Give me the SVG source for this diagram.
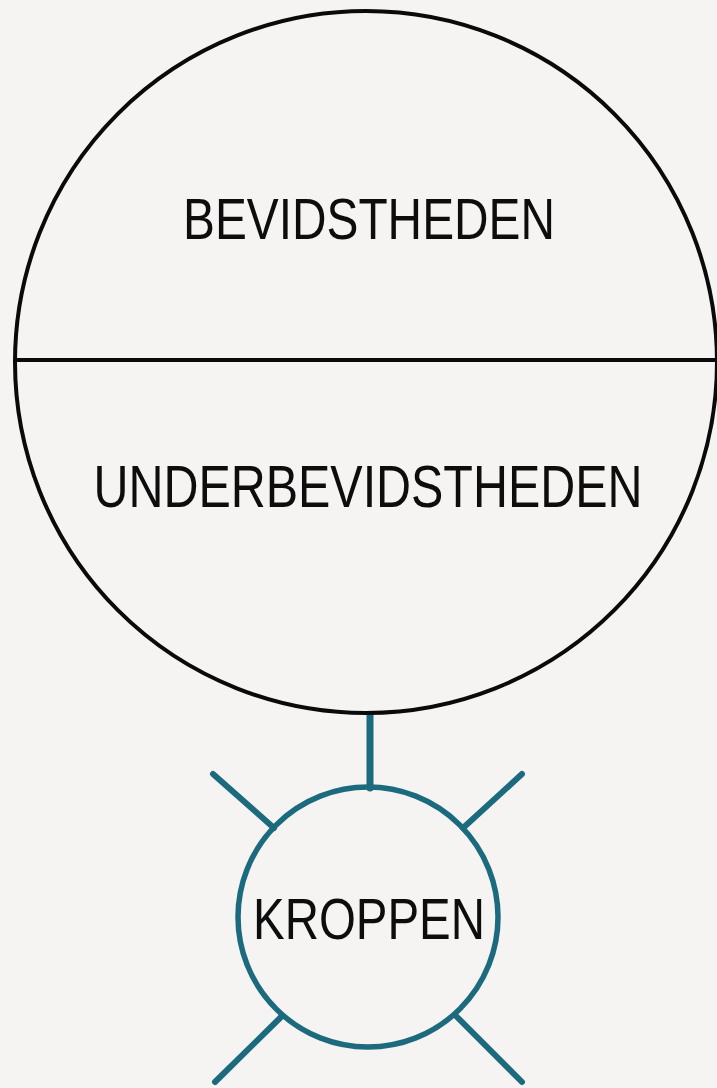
<svg xmlns="http://www.w3.org/2000/svg" width="717" height="1088" viewBox="0 0 717 1088">
<style>
.lbl{font-family:"Liberation Sans",Arial,sans-serif;font-size:58px;fill:#0d0d0d;text-anchor:middle}
.big{fill:none;stroke:#0a0a0a;stroke-width:4}
.teal{fill:none;stroke:#1b6a7e;stroke-linecap:round}
</style>
<rect width="717" height="1088" fill="#f5f4f2"/>
<g id="connectors">
<line class="teal" x1="370" y1="715" x2="370" y2="788" stroke-width="7" stroke-linecap="butt"/>
<line class="teal" x1="213" y1="774" x2="274" y2="828" stroke-width="6"/>
<line class="teal" x1="522" y1="774" x2="463" y2="828" stroke-width="6"/>
<line class="teal" x1="281" y1="1017" x2="215" y2="1082" stroke-width="6"/>
<line class="teal" x1="457" y1="1017" x2="522" y2="1082" stroke-width="6"/>
</g>
<g id="bevidstheden">
<circle class="big" cx="366" cy="362" r="351"/>
<line class="big" x1="15" y1="360" x2="717" y2="360"/>
<text class="lbl" x="369" y="239" textLength="372" lengthAdjust="spacingAndGlyphs">BEVIDSTHEDEN</text>
<text class="lbl" x="368" y="507" font-size="60" textLength="549" lengthAdjust="spacingAndGlyphs" style="font-size:60px">UNDERBEVIDSTHEDEN</text>
</g>
<g id="kroppen">
<circle class="teal" cx="368" cy="917" r="130" stroke-width="5.5"/>
<text class="lbl" x="369" y="939" textLength="232" lengthAdjust="spacingAndGlyphs" style="font-size:57px">KROPPEN</text>
</g>
</svg>
